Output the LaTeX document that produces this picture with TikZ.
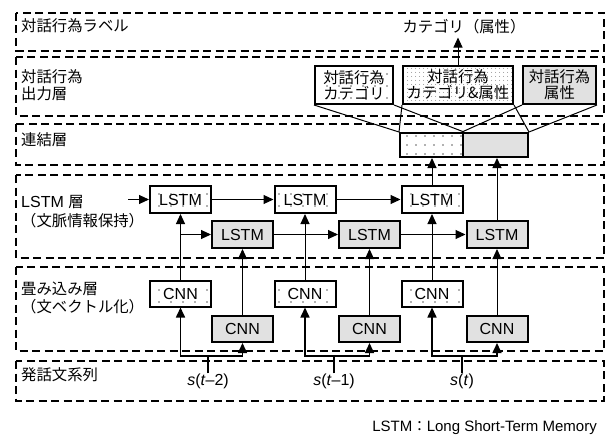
\documentclass[tikz,border=0pt]{standalone}
\usepackage{fontspec}
\setmainfont{Liberation Sans}
\newfontfamily\jp[Scale=0.96]{Noto Sans CJK JP}
\usetikzlibrary{arrows.meta,patterns.meta}
\definecolor{boxgray}{RGB}{225,225,225}
\definecolor{dotgray}{RGB}{100,100,100}
\begin{document}
\begin{tikzpicture}[x=1pt,y=-1pt,
  every node/.style={font=\fontsize{16}{17}\selectfont, inner sep=0pt},
  layer/.style={draw, line width=1.7pt, dash pattern=on 8pt off 4.5pt},
  unit/.style={draw, line width=2pt, minimum width=61pt, align=center},
  lstmbox/.style={unit, minimum height=27pt},
  cnnbox/.style={unit, minimum height=26pt},
  sparse/.style={pattern={Dots[distance=12pt,radius=0.8pt,xshift=3pt,yshift=2pt]}, pattern color=dotgray},
  catdots/.style={pattern={Dots[distance=9pt,radius=0.8pt,xshift=2pt,yshift=3pt]}, pattern color=dotgray},
  dense/.style={pattern={Dots[distance=4pt,radius=0.55pt]}, pattern color=dotgray},
  shaded/.style={fill=boxgray},
  outbox/.style={draw, line width=2pt, minimum height=38pt, align=center, font=\fontsize{16}{16}\selectfont},
  catbox/.style={draw, line width=2pt, minimum height=24pt},
  lab/.style={anchor=west, align=left, font=\fontsize{16}{18}\selectfont},
  arr/.style={-{Triangle[length=10pt,width=9pt]}, line width=1pt},
  sarr/.style={-{Triangle[length=10pt,width=9pt]}, line width=1.6pt},
  fan/.style={line width=1pt},
]
\useasboundingbox (0,0) rectangle (607,436);

% layers
\draw[layer] (16,13) rectangle (604,51);
\draw[layer] (16,57) rectangle (604,116);
\draw[layer] (16,124) rectangle (604,165);
\draw[layer] (16,175) rectangle (604,258);
\draw[layer] (16,267) rectangle (604,351);
\draw[layer] (16,361) rectangle (604,401);

% layer labels
\node[lab] (n1) at (21,26) {\jp 対話行為ラベル};
\node[lab, font=\fontsize{16}{17}\selectfont] (n2) at (21,85.5) {\jp 対話行為\\\jp 出力層};
\node[lab] (n3) at (21,140) {\jp 連結層};
\node[lab, font=\fontsize{16}{19}\selectfont] (n4) at (21,211.5) {LSTM {\jp 層}\\\jp （文脈情報保持）};
\node[lab] (n5) at (21,298) {\jp 畳み込み層\\\jp （文ベクトル化）};
\node[lab] (n6) at (21,375) {\jp 発話文系列};

% output label
\node (cat) at (464,27) {\jp カテゴリ（属性）};

% output layer boxes
\node[outbox, sparse, minimum width=78pt] (O1) at (354,85) {\jp 対話行為\\\jp カテゴリ};
\node[outbox, dense, minimum width=110pt] (O2) at (458,85) {\jp 対話行為\\\jp カテゴリ\&属性};
\node[outbox, shaded, minimum width=73pt] (O3) at (559.5,85) {\jp 対話行為\\\jp 属性};

% concatenation
\node[catbox, catdots, minimum width=63pt] (C1) at (431.5,145) {};
\node[catbox, shaded, minimum width=65pt] (C2) at (495.5,145) {};

% LSTM layer
\node[lstmbox, sparse] (L1) at (180.5,199.5) {LSTM};
\node[lstmbox, sparse] (L2) at (305,199.5) {LSTM};
\node[lstmbox, sparse] (L3) at (432,199.5) {LSTM};
\node[lstmbox, shaded] (G1) at (242.5,234.5) {LSTM};
\node[lstmbox, shaded] (G2) at (369.5,234.5) {LSTM};
\node[lstmbox, shaded] (G3) at (497,234.5) {LSTM};

% CNN layer
\node[cnnbox, sparse] (T1) at (180.5,293.5) {CNN};
\node[cnnbox, sparse] (T2) at (305,293.5) {CNN};
\node[cnnbox, sparse] (T3) at (432,293.5) {CNN};
\node[cnnbox, shaded] (B1) at (242.5,329) {CNN};
\node[cnnbox, shaded] (B2) at (369.5,329) {CNN};
\node[cnnbox, shaded] (B3) at (497,329) {CNN};

% sentences
\node (S1) at (208,381) {\textit{s}(\textit{t}–2)};
\node (S2) at (334,381) {\textit{s}(\textit{t}–1)};
\node (S3) at (462,381) {\textit{s}(\textit{t})};
\coordinate (J1) at (208,356);
\coordinate (J2) at (334,356);
\coordinate (J3) at (462,356);

% footnote
\node[anchor=east, font=\fontsize{15}{16}\selectfont] (fn) at (597,428) {LSTM{\jp ：}Long Short-Term Memory};

% sentence -> CNN
\foreach \j/\s/\t/\b in {J1/S1/T1/B1, J2/S2/T2/B2, J3/S3/T3/B3}{
  \draw[line width=1.6pt] (\s.north) -- (\j);
  \draw[sarr] (\j) -- (\j -| \t.south) -- (\t.south);
  \draw[sarr] (\j) -- (\j -| \b.south) -- (\b.south);
}

% CNN -> LSTM
\foreach \t/\l in {T1/L1, T2/L2, T3/L3, B1/G1, B2/G2, B3/G3}{
  \draw[arr] (\t.north) -- (\l.south);
}

% recurrent connections
\coordinate (in) at (128,199.5);
\draw[arr] (in) -- (L1.west);
\draw[arr] (L1.east) -- (L2.west);
\draw[arr] (L2.east) -- (L3.west);
\draw[arr] (T1.north |- G1.west) -- (G1.west);
\draw[arr] (G1.east) -- (G2.west);
\draw[arr] (G2.east) -- (G3.west);

% LSTM -> concat
\draw[arr] (L3.north) -- (L3.north |- C1.south);
\draw[arr] (G3.north) -- (G3.north |- C2.south);

% fan lines
\draw[fan] (O1.south west) -- (C1.north west);
\draw[fan] (O1.south east) -- (C1.north east);
\draw[fan] (O2.south west) -- (C1.north west);
\draw[fan] (O2.south east) -- (C2.north east);
\draw[fan] (O3.south west) -- (C2.north west);
\draw[fan] (O3.south east) -- (C2.north east);

% output arrow
\draw[arr, shorten >=3pt] (O2.north) -- (O2.north |- cat.south);
\end{tikzpicture}
\end{document}
